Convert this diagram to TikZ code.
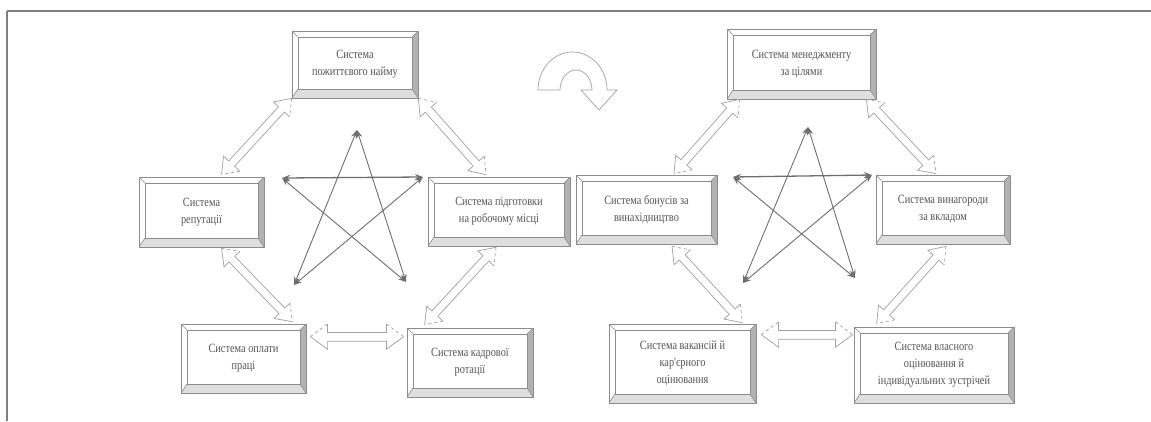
\documentclass[tikz,border=0pt]{standalone}
\usepackage{fontspec}
\usetikzlibrary{calc,arrows.meta}
\newfontfamily\boxfont[FakeStretch=0.82]{Liberation Serif}

\definecolor{boxline}{HTML}{8C8C8C}
\definecolor{boxtext}{HTML}{555555}
\definecolor{sideface}{HTML}{B2B2B2}
\definecolor{baseface}{HTML}{DEDEDE}
\definecolor{starline}{HTML}{6E6E6E}
\definecolor{hollowline}{HTML}{A0A0A0}
\definecolor{framegray}{HTML}{808080}

\tikzset{
	bevelbox/.style={
		rectangle,
		draw=boxline,
		fill=white,
		line width=0.7pt,
		inner sep=0pt,
		align=center,
		text=boxtext,
		font=\boxfont\fontsize{12.6pt}{17pt}\selectfont,
		path picture={
			\fill[sideface] (path picture bounding box.north east) -- (path picture bounding box.south east)
				-- ([shift={(-6pt,9pt)}]path picture bounding box.south east)
				-- ([shift={(-6pt,-6pt)}]path picture bounding box.north east) -- cycle;
			\fill[baseface] (path picture bounding box.south west) -- (path picture bounding box.south east)
				-- ([shift={(-6pt,9pt)}]path picture bounding box.south east)
				-- ([shift={(6pt,9pt)}]path picture bounding box.south west) -- cycle;
			\draw[boxline, line width=0.6pt] ([shift={(6pt,9pt)}]path picture bounding box.south west)
				rectangle ([shift={(-6pt,-6pt)}]path picture bounding box.north east);
			\draw[boxline, line width=0.6pt]
				(path picture bounding box.north west) -- ++(6pt,-6pt)
				(path picture bounding box.north east) -- ++(-6pt,-6pt)
				(path picture bounding box.south west) -- ++(6pt,9pt)
				(path picture bounding box.south east) -- ++(-6pt,9pt);
		}
	},
	stararrow/.style={
		draw=starline,
		line width=0.9pt,
		<->,
		>={Stealth[length=8pt,width=6pt]}
	},
	hollowarrow/.style={
		draw=hollowline,
		line width=0.7pt,
		line join=miter
	}
}

% hollow double arrow between two named points, #1 = size factor
\newcommand{\hollowarrow}[3][1]{%
	\path ($(#2)!#1*15pt!(#3)!#1*11pt!90:(#3)$) coordinate (ha2)
		($(#2)!#1*15pt!(#3)!#1*4pt!90:(#3)$) coordinate (ha3)
		($(#3)!#1*15pt!(#2)!#1*4pt!-90:(#2)$) coordinate (ha4)
		($(#3)!#1*15pt!(#2)!#1*11pt!-90:(#2)$) coordinate (ha5)
		($(#3)!#1*15pt!(#2)!#1*11pt!90:(#2)$) coordinate (ha7)
		($(#3)!#1*15pt!(#2)!#1*4pt!90:(#2)$) coordinate (ha8)
		($(#2)!#1*15pt!(#3)!#1*4pt!-90:(#3)$) coordinate (ha9)
		($(#2)!#1*15pt!(#3)!#1*11pt!-90:(#3)$) coordinate (ha10);
	\fill[white] (#2) -- (ha2) -- (ha3) -- (ha4) -- (ha5) -- (#3) -- (ha7) -- (ha8) -- (ha9) -- (ha10) -- cycle;
	\draw[hollowarrow] (ha2) -- (ha3) -- (ha4) -- (ha5);
	\draw[hollowarrow, dashed] (ha5) -- (#3);
	\draw[hollowarrow] (#3) -- (ha7) -- (ha8) -- (ha9) -- (ha10) -- (#2);
	\draw[hollowarrow, dashed] (#2) -- (ha2);
}

\begin{document}
\begin{tikzpicture}[x=1pt, y=-1pt]
			\useasboundingbox (0,0) rectangle (1151,421);

			% frame
			\draw[framegray, line width=2.4pt] (7,11) -- (1151,11);
			\draw[framegray, line width=1.4pt] (7,11) -- (7,421);

			% left cycle
			\draw (355,64.5) node[bevelbox, minimum width=126pt, minimum height=67pt] (lifelong) {Система\\пожиттєвого найму};
			\draw (201.5,212) node[bevelbox, minimum width=125pt, minimum height=70pt] (reputation) {Система\\репутації};
			\draw (499,211.5) node[bevelbox, minimum width=142pt, minimum height=69pt] (training) {Система підготовки\\на робочому місці};
			\draw (243.5,358.5) node[bevelbox, minimum width=125pt, minimum height=69pt] (payment) {Система оплати\\праці};
			\draw (470,362.5) node[bevelbox, minimum width=126pt, minimum height=69pt] (rotation) {Система кадрової\\ротації};

			\coordinate (rep top) at ($(reputation.north)+(20,-2)$);
			\coordinate (train top) at ($(training.north)+(-13,-2)$);
			\coordinate (rep bottom) at ($(reputation.south)+(20,1)$);
			\coordinate (pay top) at ($(payment.north east)+(-14,-2)$);
			\coordinate (train bottom) at ($(training.south)+(-3,1)$);
			\coordinate (rot top) at ($(rotation.north west)+(18,-3)$);
			\coordinate (pay side) at ($(payment.north east)+(4,13)$);
			\coordinate (rot side) at ($(rotation.north west)+(-3,9)$);

			\hollowarrow{lifelong.south west}{rep top}
			\hollowarrow{lifelong.south east}{train top}
			\hollowarrow{rep bottom}{pay top}
			\hollowarrow{train bottom}{rot top}
			\hollowarrow[1.15]{pay side}{rot side}

			\coordinate (lstar top) at (357,130);
			\coordinate (lstar left) at (282,178);
			\coordinate (lstar right) at (423,177);
			\coordinate (lstar bl) at (294,285);
			\coordinate (lstar br) at (406,282);
			\draw[stararrow, line width=1.3pt] (lstar left) -- (lstar right);
			\draw[stararrow] (lstar top) -- (lstar bl);
			\draw[stararrow] (lstar top) -- (lstar br);
			\draw[stararrow] (lstar left) -- (lstar br);
			\draw[stararrow] (lstar right) -- (lstar bl);

			% turn arrow
			\filldraw[fill=white, draw=hollowline, line width=0.7pt] (538,90)
				arc[start angle=180, end angle=360, x radius=34.5, y radius=38]
				-- (617,90) -- (599,110) -- (581,90) -- (592,90)
				arc[start angle=0, end angle=-180, x radius=16, y radius=20]
				-- cycle;

			% right cycle
			\draw (801.5,64) node[bevelbox, minimum width=149pt, minimum height=70pt] (objectives) {Система менеджменту\\за цілями};
			\draw (646.5,209.5) node[bevelbox, minimum width=141pt, minimum height=69pt] (bonuses) {Система бонусів за\\винахідництво};
			\draw (943,209.5) node[bevelbox, minimum width=134pt, minimum height=69pt] (reward) {Система винагороди\\за вкладом};
			\draw (682.5,363.5) node[bevelbox, minimum width=147pt, minimum height=79pt] (vacancies) {Система вакансій й\\кар'єрного\\оцінювання};
			\draw (934,365) node[bevelbox, minimum width=160pt, minimum height=76pt] (appraisal) {Система власного\\оцінювання й\\індивідуальних зустрічей};

			\coordinate (obj sw) at ($(objectives.south west)+(13,0)$);
			\coordinate (bon top) at ($(bonuses.north)+(27.5,-1)$);
			\coordinate (obj se) at ($(objectives.south east)+(-10,0)$);
			\coordinate (rew top) at ($(reward.north)+(-7,-1)$);
			\coordinate (bon bottom) at ($(bonuses.south)+(25.5,2)$);
			\coordinate (vac top) at ($(vacancies.north east)+(-14,-1)$);
			\coordinate (rew bottom) at ($(reward.south)+(3,2)$);
			\coordinate (app top) at ($(appraisal.north west)+(23,-3)$);
			\coordinate (vac side) at ($(vacancies.north east)+(5,11)$);
			\coordinate (app side) at ($(appraisal.north west)+(-1,8)$);

			\hollowarrow{obj sw}{bon top}
			\hollowarrow{obj se}{rew top}
			\hollowarrow{bon bottom}{vac top}
			\hollowarrow{rew bottom}{app top}
			\hollowarrow[1.15]{vac side}{app side}

			\coordinate (rstar top) at (808,127);
			\coordinate (rstar left) at (733,177);
			\coordinate (rstar right) at (872,175);
			\coordinate (rstar bl) at (743,283);
			\coordinate (rstar br) at (855,278);
			\draw[stararrow, line width=1.3pt] (rstar left) -- (rstar right);
			\draw[stararrow] (rstar top) -- (rstar bl);
			\draw[stararrow] (rstar top) -- (rstar br);
			\draw[stararrow] (rstar left) -- (rstar br);
			\draw[stararrow] (rstar right) -- (rstar bl);
		\end{tikzpicture}
\end{document}
